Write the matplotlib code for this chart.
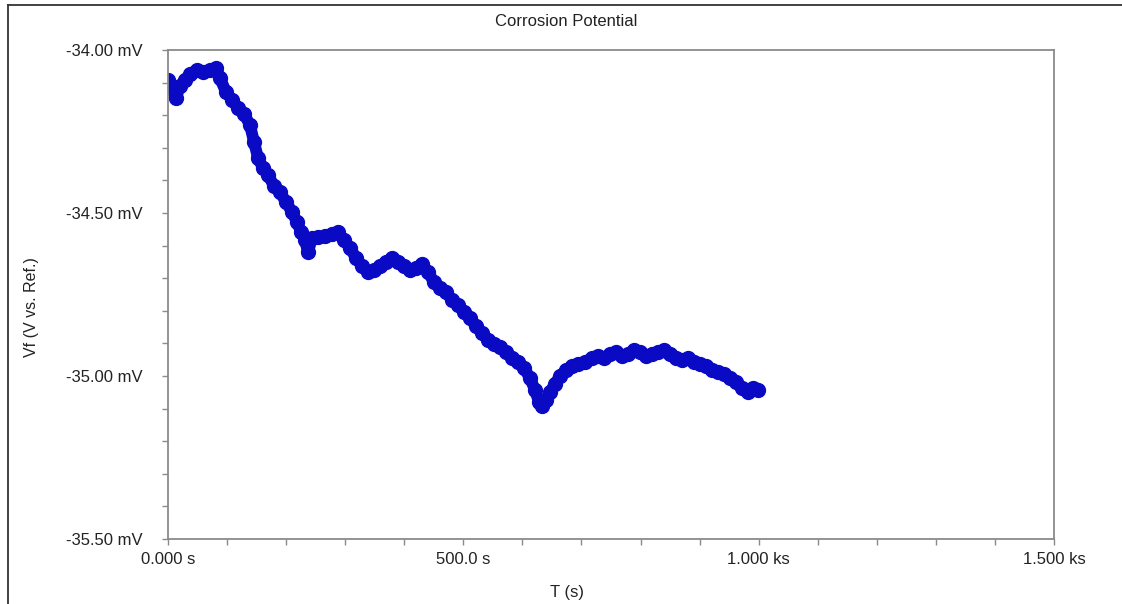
import numpy as np
import matplotlib
matplotlib.use("Agg")
import matplotlib.pyplot as plt
from matplotlib.lines import Line2D
from matplotlib.ticker import MultipleLocator, FuncFormatter

plt.rcParams['font.family'] = ['Liberation Sans', 'DejaVu Sans']

# corrosion potential readings (time in s, Vf in mV)
time_s = [0.0, 6.8, 13.5, 20.3, 28.8, 37.2, 49.1, 59.3, 71.1, 81.3, 88.0, 98.2,
          108.3, 118.5, 128.7, 138.8, 145.6, 152.4, 160.8, 169.3, 179.4, 189.6,
          199.8, 209.9, 218.4, 225.2, 231.9, 237.0, 243.8, 253.9, 265.8, 277.6,
          287.8, 298.0, 308.1, 318.3, 328.4, 338.6, 348.7, 358.9, 369.0, 379.2,
          389.4, 399.5, 409.7, 419.8, 430.0, 440.2, 450.3, 460.5, 470.6, 480.8,
          491.0, 501.1, 511.3, 521.4, 531.6, 541.8, 551.9, 562.0, 572.2, 582.4,
          592.5, 602.7, 612.8, 621.3, 628.1, 633.2, 639.9, 646.7, 655.2, 663.6,
          673.8, 684.0, 694.1, 706.0, 717.8, 728.0, 738.1, 748.3, 758.4, 768.6,
          778.7, 788.9, 799.1, 809.2, 819.4, 829.5, 839.7, 849.8, 860.0, 870.2,
          880.3, 890.5, 900.6, 910.8, 920.9, 931.1, 941.3, 951.4, 961.6, 971.7,
          981.9, 990.4, 998.8]
vf_mv = [-34.092, -34.117, -34.147, -34.110, -34.092, -34.074, -34.061, -34.067,
         -34.061, -34.055, -34.086, -34.129, -34.153, -34.178, -34.196, -34.230,
         -34.282, -34.331, -34.362, -34.383, -34.417, -34.436, -34.466, -34.497,
         -34.528, -34.558, -34.583, -34.620, -34.577, -34.574, -34.571, -34.564,
         -34.558, -34.583, -34.607, -34.638, -34.663, -34.681, -34.675, -34.663,
         -34.650, -34.638, -34.650, -34.663, -34.675, -34.669, -34.656, -34.681,
         -34.712, -34.730, -34.742, -34.767, -34.782, -34.804, -34.822, -34.847,
         -34.868, -34.890, -34.902, -34.911, -34.926, -34.945, -34.957, -34.975,
         -35.006, -35.043, -35.080, -35.092, -35.074, -35.049, -35.025, -35.000,
         -34.982, -34.969, -34.963, -34.957, -34.945, -34.939, -34.945, -34.933,
         -34.926, -34.939, -34.933, -34.920, -34.926, -34.939, -34.933, -34.926,
         -34.920, -34.933, -34.945, -34.951, -34.945, -34.957, -34.963, -34.969,
         -34.982, -34.988, -34.994, -35.006, -35.018, -35.037, -35.049, -35.037,
         -35.043]

x_ticks = [0, 500, 1000, 1500]
x_tick_labels = ['0.000 s', '500.0 s', '1.000 ks', '1.500 ks']
y_ticks = [-35.5, -35.0, -34.5, -34.0]

W, H = 1122, 604
fig = plt.figure(figsize=(W / 100, H / 100), dpi=100)
ax = fig.add_axes([168 / W, 1 - 539 / H, (1054 - 168) / W, (539 - 50) / H])

blue = '#0A0AC4'
ax.plot(time_s, vf_mv, color=blue, lw=8.5, solid_capstyle='round',
        solid_joinstyle='round', marker='o', ms=10, mec=blue, mfc=blue)

ax.set_xlim(0, 1500)
ax.set_ylim(-35.5, -34.0)
ax.set_xticks(x_ticks)
ax.set_xticklabels(x_tick_labels)
ax.set_yticks(y_ticks)
ax.yaxis.set_major_formatter(FuncFormatter(lambda v, p: f'{v:.2f} mV'))
ax.xaxis.set_minor_locator(MultipleLocator(100))
ax.yaxis.set_minor_locator(MultipleLocator(0.1))

grey = '#8a8a8a'
for s in ax.spines.values():
    s.set_color(grey)
    s.set_linewidth(1.3)
ax.tick_params(which='both', direction='out', length=4, width=1, color=grey,
               labelsize=12, labelcolor='#222222')
ax.tick_params(axis='y', which='both', pad=14)
ax.tick_params(axis='x', which='both', pad=5)

fig.text(566 / W, 1 - 21 / H, 'Corrosion Potential', ha='center', va='center',
         fontsize=12, color='#222222')
fig.text(567 / W, 1 - 593 / H, 'T (s)', ha='center', va='center',
         fontsize=12, color='#222222')
fig.text(32 / W, 1 - 307 / H, 'Vf (V vs. Ref.)', ha='center', va='center',
         rotation=90, fontsize=11.5, color='#222222')

# outer frame (top and left edges only)
fig.add_artist(Line2D([8 / W, 1], [1 - 5 / H, 1 - 5 / H], color='#333333', lw=1.3))
fig.add_artist(Line2D([8 / W, 8 / W], [0, 1 - 5 / H], color='#333333', lw=1.3))

fig.savefig('out.png', dpi=100)
